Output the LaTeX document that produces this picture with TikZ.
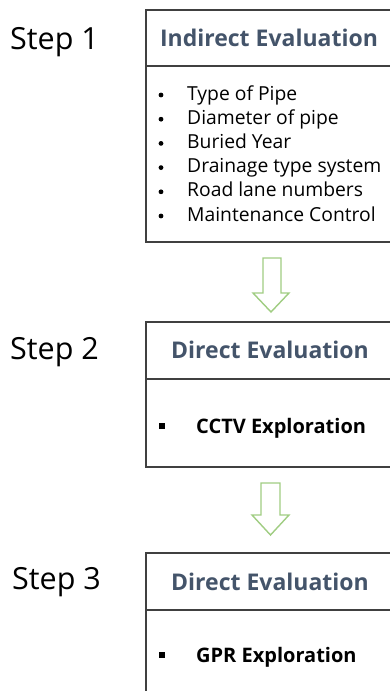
\documentclass[tikz,border=0pt]{standalone}
\usepackage{fontspec}
\setmainfont{Open Sans}
\definecolor{hdr}{RGB}{68,84,106}
\definecolor{frame}{RGB}{64,64,64}
\definecolor{arrowgreen}{RGB}{160,205,130}
\begin{document}
\begin{tikzpicture}[x=1pt,y=-1pt,
  boxframe/.style={draw=frame, line width=1.3pt},
  steplabel/.style={anchor=west, inner sep=0pt, font=\fontsize{30.5}{31}\selectfont},
  header/.style={inner sep=0pt, text=hdr, font=\bfseries\fontsize{23}{24}\selectfont},
  item/.style={anchor=base west, inner sep=0pt, font=\fontsize{19.3}{20}\selectfont},
  bolditem/.style={anchor=base west, inner sep=0pt, font=\bfseries\fontsize{20}{20}\selectfont},
  bigarrow/.style={draw=arrowgreen, fill=white, line width=1.4pt, line join=miter}]
\clip (0,0) rectangle (390,691);
% Step 1
\node[steplabel] (s1) at (10,42) {Step 1};
\draw[boxframe] (395,10) -- (146,10) -- (146,242) -- (395,242);
\draw[boxframe] (146,66) -- (395,66);
\node[header] (h1) at (269,38) {Indirect Evaluation};
\foreach \t [count=\i] in {Type of Pipe, Diameter of pipe, Buried Year, Drainage type system, Road lane numbers, Maintenance Control}{
  \node[item] (i\i) at (187,{100+24.2*(\i-1)}) {\t};
  \fill (161,{95+24.2*(\i-1)}) circle (2.4);
}
% Arrow 1
\draw[bigarrow] (263,258) -- (281,258) -- (281,293) -- (289,293) -- (271,312) -- (253,293) -- (263,293) -- cycle;
% Step 2
\node[steplabel] (s2) at (10,352) {Step 2};
\draw[boxframe] (395,322) -- (146,322) -- (146,467) -- (395,467);
\draw[boxframe] (146,379) -- (395,379);
\node[header] (h2) at (270,350) {Direct Evaluation};
\fill (159,423) rectangle (165,429);
\node[bolditem] (c2) at (196,433) {CCTV Exploration};
% Arrow 2
\draw[bigarrow] (261,483) -- (280,483) -- (280,515) -- (289,515) -- (270.5,535) -- (252,515) -- (261,515) -- cycle;
% Step 3
\node[steplabel] (s3) at (12,582) {Step 3};
\draw[boxframe] (395,553) -- (146,553) -- (146,700);
\draw[boxframe] (146,610) -- (395,610);
\node[header] (h3) at (270,582) {Direct Evaluation};
\fill (159,652) rectangle (165,658);
\node[bolditem] (c3) at (196,662) {GPR Exploration};
\end{tikzpicture}
\end{document}
